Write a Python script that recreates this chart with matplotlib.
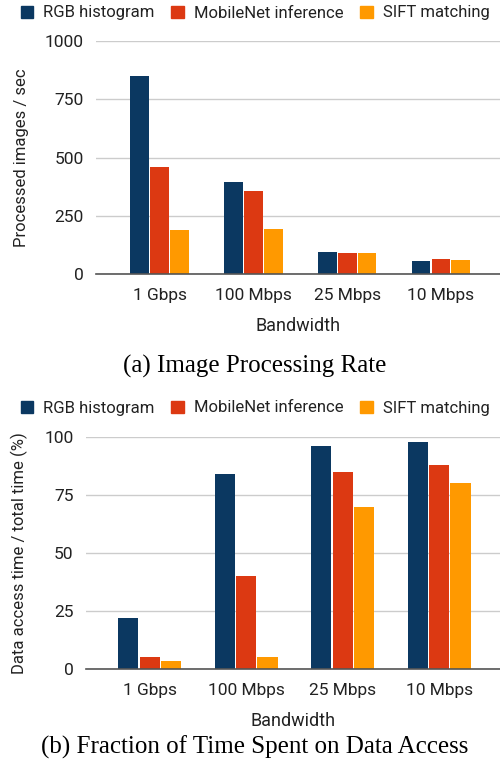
import numpy as np
import matplotlib
matplotlib.use('Agg')
import matplotlib.pyplot as plt
from matplotlib.patches import Patch

plt.rcParams['font.family'] = ['Roboto', 'DejaVu Sans']

categories = ['1 Gbps', '100 Mbps', '25 Mbps', '10 Mbps']
series_names = ['RGB histogram', 'MobileNet inference', 'SIFT matching']
colors = ['#0b3861', '#dc3912', '#ff9900']

# (a) processed images / sec
rate_rgb = [850, 395, 95, 55]
rate_mobilenet = [460, 355, 88, 64]
rate_sift = [190, 195, 88, 60]

# (b) data access time / total time (%)
frac_rgb = [22, 84, 96, 98]
frac_mobilenet = [5, 40, 85, 88]
frac_sift = [3.5, 5, 70, 80]

fig = plt.figure(figsize=(5, 7.75), dpi=100)
text_col = '#222222'


def draw(ax, data, yticks, ylabel, width, xlim):
    x = np.arange(len(categories))
    for i, vals in enumerate(data):
        ax.bar(x + (i - 1) * (width + 0.012), vals, width=width,
               color=colors[i], zorder=3)
    ax.set_xlim(*xlim)
    ax.set_ylim(0, yticks[-1])
    ax.set_yticks(yticks)
    ax.set_xticks(x)
    ax.set_xticklabels(categories)
    ax.grid(axis='y', color='#cccccc', linewidth=1, zorder=0)
    for s in ['top', 'right', 'left']:
        ax.spines[s].set_visible(False)
    ax.spines['bottom'].set_color('#555555')
    ax.spines['bottom'].set_linewidth(1.2)
    ax.spines['bottom'].set_zorder(4)
    ax.tick_params(length=0, labelsize=12.5, colors=text_col, pad=10)
    ax.tick_params(axis='y', pad=9)
    ax.set_xlabel('Bandwidth', fontsize=13, color=text_col, labelpad=10)
    ax.set_ylabel(ylabel, fontsize=12, color=text_col)


ax1 = fig.add_axes([0.192, 1 - 274 / 775, 0.808, 233 / 775])
draw(ax1, [rate_rgb, rate_mobilenet, rate_sift], [0, 250, 500, 750, 1000],
     'Processed images / sec', 0.2, (-0.68, 3.63))
ax1.yaxis.set_label_coords(-0.165, 0.5)

ax2 = fig.add_axes([0.172, 1 - 669 / 775, 0.828, 232 / 775])
draw(ax2, [frac_rgb, frac_mobilenet, frac_sift], [0, 25, 50, 75, 100],
     'Data access time / total time (%)', 0.21, (-0.66, 3.63))
ax2.yaxis.set_label_coords(-0.14, 0.5)

handles = [Patch(color=c, label=n) for c, n in zip(colors, series_names)]
for ypix in [13, 408]:
    fig.legend(handles=handles, loc='center', bbox_to_anchor=(0.51, 1 - ypix / 775),
               ncol=3, frameon=False, fontsize=12, handlelength=0.75,
               handleheight=0.75, columnspacing=1.0, handletextpad=0.6,
               labelcolor=text_col)

fig.text(0.51, 1 - 366 / 775, '(a) Image Processing Rate', ha='center', va='center',
         fontsize=18, family='Liberation Serif')
fig.text(0.51, 1 - 747 / 775, '(b) Fraction of Time Spent on Data Access', ha='center',
         va='center', fontsize=18, family='Liberation Serif')

fig.savefig('out.png', dpi=100)
